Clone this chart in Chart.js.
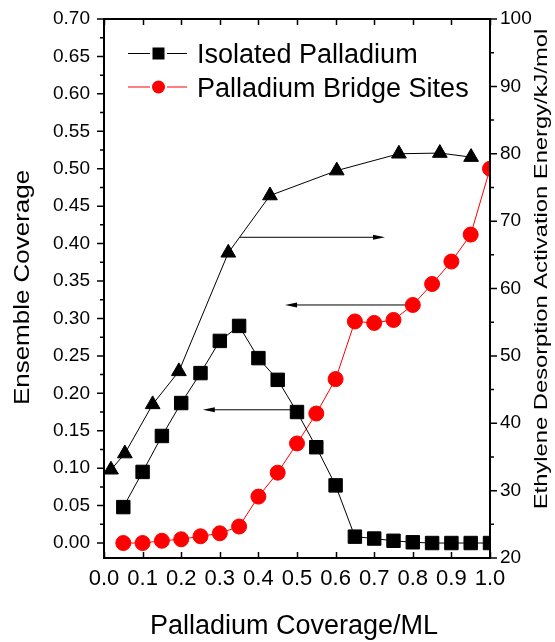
<!DOCTYPE html>
<html>
<head>
<meta charset="utf-8">
<title>Ensemble coverage vs palladium coverage</title>
<script src="https://cdn.jsdelivr.net/npm/chart.js@4.4.0/dist/chart.umd.min.js"></script>
<style>
  html, body { margin: 0; padding: 0; background: #fff; }
  canvas { display: block; }
</style>
</head>
<body>
<canvas id="chart" width="555" height="642"></canvas>
<script>
// Values
const coverage = [0.05, 0.10, 0.15, 0.20, 0.25, 0.30, 0.35, 0.40, 0.45, 0.50,
                  0.55, 0.60, 0.65, 0.70, 0.75, 0.80, 0.85, 0.90, 0.95, 1.00];
const isolatedPd = [0.048, 0.095, 0.143, 0.187, 0.227, 0.270, 0.290, 0.247, 0.218, 0.175,
                    0.128, 0.077, 0.0085, 0.006, 0.003, 0.001, 0.000, 0.000, 0.000, 0.000];
const bridgeSites = [0.000, 0.000, 0.003, 0.005, 0.009, 0.013, 0.022, 0.062, 0.094, 0.133,
                     0.173, 0.219, 0.296, 0.294, 0.298, 0.318, 0.346, 0.376, 0.412, 0.500];

const energyCoverage = [0.018, 0.054, 0.126, 0.194, 0.322, 0.430, 0.603, 0.764, 0.870, 0.951];
const activationEnergy = [33.1, 35.5, 42.8, 47.7, 65.3, 73.8, 77.5, 80.0, 80.1, 79.5];

const xTicks = [0.0, 0.1, 0.2, 0.3, 0.4, 0.5, 0.6, 0.7, 0.8, 0.9, 1.0];
const ensembleTicks = [0.00, 0.05, 0.10, 0.15, 0.20, 0.25, 0.30, 0.35, 0.40, 0.45, 0.50, 0.55, 0.60, 0.65, 0.70];
const energyTicks = [20, 30, 40, 50, 60, 70, 80, 90, 100];

// arrows showing which axis each curve belongs to
const arrows = [
  { from: [0.352, 67.6], to: [0.728, 67.6], axis: 'yEnergy' },
  { from: [0.788, 0.318], to: [0.469, 0.318], axis: 'yCov' },
  { from: [0.487, 0.178], to: [0.256, 0.178], axis: 'yCov' }
];

const FONT = "'Liberation Sans', Arial, sans-serif";

const pts = (xs, ys) => xs.map((x, i) => ({ x: x, y: ys[i] }));

// frame, tick marks and arrows
const framePlugin = {
  id: 'frame',
  beforeDatasetsDraw(chart) {
    const ctx = chart.ctx;
    const xs = chart.scales.x;
    ctx.save();
    ctx.strokeStyle = '#000';
    ctx.fillStyle = '#000';
    ctx.lineWidth = 1;
    arrows.forEach(a => {
      const ys = chart.scales[a.axis];
      const x1 = xs.getPixelForValue(a.from[0]), y1 = ys.getPixelForValue(a.from[1]);
      const x2 = xs.getPixelForValue(a.to[0]), y2 = ys.getPixelForValue(a.to[1]);
      const dir = Math.sign(x2 - x1);
      ctx.beginPath();
      ctx.moveTo(x1, y1);
      ctx.lineTo(x2 - dir * 8, y2);
      ctx.stroke();
      ctx.beginPath();
      ctx.moveTo(x2, y2);
      ctx.lineTo(x2 - dir * 12, y2 - 2.5);
      ctx.lineTo(x2 - dir * 12, y2 + 2.5);
      ctx.closePath();
      ctx.fill();
    });
    ctx.restore();
  },
  afterDatasetsDraw(chart) {
    const ctx = chart.ctx;
    const a = chart.chartArea;
    const xs = chart.scales.x, yl = chart.scales.yCov, yr = chart.scales.yEnergy;
    ctx.save();
    ctx.strokeStyle = '#000';
    ctx.lineWidth = 1.5;
    ctx.beginPath();
    xTicks.forEach(v => {
      const px = Math.round(xs.getPixelForValue(v)) + 0.5;
      ctx.moveTo(px, a.bottom); ctx.lineTo(px, a.bottom - 6);
      ctx.moveTo(px, a.top); ctx.lineTo(px, a.top + 6);
    });
    ensembleTicks.forEach((v, i) => {
      const py = yl.getPixelForValue(v);
      ctx.moveTo(a.left, py); ctx.lineTo(a.left - 7, py);
      if (i < ensembleTicks.length - 1) {
        const pm = yl.getPixelForValue((v + ensembleTicks[i + 1]) / 2);
        ctx.moveTo(a.left, pm); ctx.lineTo(a.left - 4, pm);
      }
    });
    energyTicks.forEach((v, i) => {
      const py = yr.getPixelForValue(v);
      ctx.moveTo(a.right, py); ctx.lineTo(a.right + 7, py);
      if (i < energyTicks.length - 1) {
        const pm = yr.getPixelForValue((v + energyTicks[i + 1]) / 2);
        ctx.moveTo(a.right, pm); ctx.lineTo(a.right + 4, pm);
      }
    });
    ctx.stroke();
    ctx.lineWidth = 2;
    ctx.strokeRect(a.left, a.top, a.right - a.left, a.bottom - a.top);
    ctx.restore();
  }
};

// Origin-style legend inside the plot, and stretched axis titles
const textPlugin = {
  id: 'texts',
  afterDraw(chart) {
    const ctx = chart.ctx;
    ctx.save();
    ctx.fillStyle = '#000';

    // legend
    let row = 0;
    chart.data.datasets.forEach(ds => {
      if (!ds.inLegend) return;
      const y = 53.5 + row * 33.5;
      ctx.strokeStyle = ds.borderColor;
      ctx.lineWidth = 1;
      ctx.beginPath();
      ctx.moveTo(128, y); ctx.lineTo(150, y);
      ctx.moveTo(167, y); ctx.lineTo(187, y);
      ctx.stroke();
      ctx.fillStyle = ds.backgroundColor;
      if (ds.pointStyle === 'rect') {
        ctx.fillRect(152.5, y - 6, 12, 12);
      } else {
        ctx.beginPath();
        ctx.arc(158.5, y, 6.5, 0, Math.PI * 2);
        ctx.fill();
      }
      ctx.fillStyle = '#000';
      ctx.font = '27px ' + FONT;
      ctx.textAlign = 'left';
      ctx.textBaseline = 'alphabetic';
      ctx.fillText(ds.label, 197, y + 9.5);
      row++;
    });

    const title = (text, x, y, rot, size, stretch) => {
      ctx.save();
      ctx.translate(x, y);
      ctx.rotate(rot);
      ctx.scale(stretch, 1);
      ctx.font = size + 'px ' + FONT;
      ctx.textAlign = 'center';
      ctx.textBaseline = 'alphabetic';
      ctx.fillText(text, 0, 0);
      ctx.restore();
    };
    title('Palladium Coverage/ML', 294, 634, 0, 27, 1);
    title('Ensemble Coverage', 29, 287.5, -Math.PI / 2, 22, 1.18);
    title('Ethylene Desorption Activation Energy/kJ/mol', 547, 269, -Math.PI / 2, 19, 1.25);
    ctx.restore();
  }
};

// fixed box sizes so the plot area lands where it is in the figure
const fixWidth = w => s => { s.width = w; s.paddingTop = 0; s.paddingBottom = 0; };

new Chart(document.getElementById('chart'), {
  type: 'line',
  data: {
    datasets: [{
      label: 'Isolated Palladium',
      inLegend: true,
      data: pts(coverage, isolatedPd),
      yAxisID: 'yCov',
      borderColor: '#000',
      backgroundColor: '#000',
      borderWidth: 1,
      pointStyle: 'rect',
      pointRadius: 9.5,
      pointBorderWidth: 1
    }, {
      label: 'Palladium Bridge Sites',
      inLegend: true,
      data: pts(coverage, bridgeSites),
      yAxisID: 'yCov',
      borderColor: '#ff0000',
      backgroundColor: '#ff0000',
      borderWidth: 1,
      pointStyle: 'circle',
      pointRadius: 7.5,
      pointBorderWidth: 1
    }, {
      label: 'Activation Energy',
      inLegend: false,
      data: pts(energyCoverage, activationEnergy),
      yAxisID: 'yEnergy',
      borderColor: '#000',
      backgroundColor: '#000',
      borderWidth: 1,
      pointStyle: 'triangle',
      pointRadius: 8.5,
      pointBorderWidth: 1
    }]
  },
  options: {
    responsive: false,
    animation: false,
    layout: { padding: { top: 19, left: 0, right: 0, bottom: 0 } },
    elements: { line: { tension: 0, fill: false } },
    scales: {
      x: {
        type: 'linear',
        min: 0,
        max: 1,
        grid: { display: false, drawTicks: false },
        border: { display: false },
        afterBuildTicks: s => { s.ticks = xTicks.map(v => ({ value: v })); },
        afterFit: s => { s.height = 84; },
        ticks: {
          padding: 8,
          color: '#000',
          font: { family: FONT, size: 22 },
          maxRotation: 0,
          autoSkip: false,
          callback: v => v.toFixed(1)
        }
      },
      yCov: {
        type: 'linear',
        position: 'left',
        min: -0.02,
        max: 0.70,
        grid: { display: false, drawTicks: false },
        border: { display: false },
        afterBuildTicks: s => { s.ticks = ensembleTicks.map(v => ({ value: v })); },
        afterFit: fixWidth(104),
        ticks: {
          padding: 14,
          color: '#000',
          font: { family: FONT, size: 19 },
          autoSkip: false,
          callback: v => v.toFixed(2)
        }
      },
      yEnergy: {
        type: 'linear',
        position: 'right',
        min: 20,
        max: 100,
        grid: { display: false, drawTicks: false },
        border: { display: false },
        afterBuildTicks: s => { s.ticks = energyTicks.map(v => ({ value: v })); },
        afterFit: fixWidth(65),
        ticks: {
          padding: 10,
          color: '#000',
          font: { family: FONT, size: 19 },
          autoSkip: false
        }
      }
    },
    plugins: {
      legend: { display: false },
      tooltip: { enabled: false }
    }
  },
  plugins: [framePlugin, textPlugin]
});
</script>
</body>
</html>
